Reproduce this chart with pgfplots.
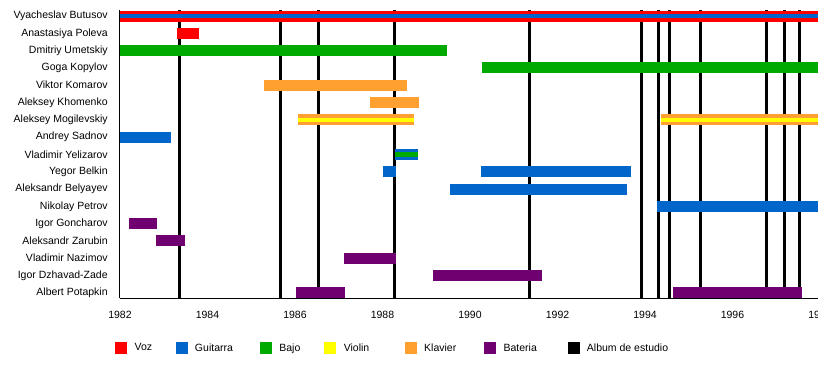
\documentclass[border=0pt]{standalone}
\usepackage{fontspec}
\setmainfont{Liberation Sans}
\usepackage{pgfplots}
\pgfplotsset{compat=1.18}
\definecolor{cVoz}{HTML}{FF0000}
\definecolor{cGui}{HTML}{0066CC}
\definecolor{cBajo}{HTML}{00AA00}
\definecolor{cVio}{HTML}{FFFF00}
\definecolor{cKla}{HTML}{FFA030}
\definecolor{cBat}{HTML}{700070}
\begin{document}
\begin{tikzpicture}[font=\fontsize{10.5bp}{12bp}\selectfont]
\begin{axis}[
  at={(0,0)}, anchor=south west,
  scale only axis, width=700bp, height=288bp,
  xmin=1982, xmax=1998, ymin=-0.3, ymax=16.35,
  clip=false,
  axis x line=bottom, axis y line=left,
  axis line style={-, line width=1bp, black},
  xtick={1982,1984,...,1998},
  /pgf/number format/1000 sep={},
  /pgf/number format/assume math mode=true,
  xtick style={draw=none}, ytick style={draw=none},
  xticklabel style={anchor=center, yshift=-15bp},
  ytick={0,...,16},
  yticklabels={Albert Potapkin, Igor Dzhavad-Zade, Vladimir Nazimov, Aleksandr Zarubin, Igor Goncharov, Nikolay Petrov, Aleksandr Belyayev, Yegor Belkin, Vladimir Yelizarov, Andrey Sadnov, Aleksey Mogilevskiy, Aleksey Khomenko, Viktor Komarov, Goga Kopylov, Dmitriy Umetskiy, Anastasiya Poleva, Vyacheslav Butusov},
  yticklabel style={anchor=east, inner sep=0pt, xshift=-10bp},
  bar/.style={line width=11bp, forget plot},
  stripe/.style={line width=4.5bp, forget plot},
  legend image code/.code={\fill[#1] (0bp,-5.5bp) rectangle (11bp,5.5bp);},
  legend columns=7,
  legend cell align=left,
  legend style={at={(axis description cs:-0.00714,-0.1736)}, anchor=west,
    draw=none, inner sep=0pt, column sep=0pt, nodes={inner sep=0pt},
    /tikz/every odd column/.style={column sep=8bp},
    font=\fontsize{10.5bp}{12bp}\selectfont},
]
% album lines
\pgfplotsinvokeforeach{1983.36,1985.66,1986.53,1988.27,1991.37,1993.92,1994.30,1994.57,1995.26,1996.77,1997.18,1997.54}{
  \addplot[black, line width=3bp, forget plot] coordinates {(#1,-0.3) (#1,16.35)};
}
% Vyacheslav Butusov
\addplot[bar, cVoz] coordinates {(1982,16) (1998,16)};
\addplot[stripe, cGui] coordinates {(1982,16) (1998,16)};
% Anastasiya Poleva
\addplot[bar, cVoz] coordinates {(1983.30,15) (1983.81,15)};
% Dmitriy Umetskiy
\addplot[bar, cBajo] coordinates {(1982,14) (1989.47,14)};
% Goga Kopylov
\addplot[bar, cBajo] coordinates {(1990.27,13) (1998,13)};
% Viktor Komarov
\addplot[bar, cKla] coordinates {(1985.29,12) (1988.57,12)};
% Aleksey Khomenko
\addplot[bar, cKla] coordinates {(1987.71,11) (1988.83,11)};
% Aleksey Mogilevskiy
\addplot[bar, cKla] coordinates {(1986.07,10) (1988.72,10)};
\addplot[stripe, cVio] coordinates {(1986.07,10) (1988.72,10)};
\addplot[bar, cKla] coordinates {(1994.37,10) (1998,10)};
\addplot[stripe, cVio] coordinates {(1994.37,10) (1998,10)};
% Andrey Sadnov
\addplot[bar, cGui] coordinates {(1982,9) (1983.17,9)};
% Vladimir Yelizarov
\addplot[bar, cGui] coordinates {(1988.29,8) (1988.80,8)};
\addplot[stripe, cBajo] coordinates {(1988.29,8) (1988.80,8)};
% Yegor Belkin
\addplot[bar, cGui] coordinates {(1988.00,7) (1988.31,7)};
\addplot[bar, cGui] coordinates {(1990.25,7) (1993.67,7)};
% Aleksandr Belyayev
\addplot[bar, cGui] coordinates {(1989.54,6) (1993.59,6)};
% Nikolay Petrov
\addplot[bar, cGui] coordinates {(1994.27,5) (1998,5)};
% Igor Goncharov
\addplot[bar, cBat] coordinates {(1982.21,4) (1982.85,4)};
% Aleksandr Zarubin
\addplot[bar, cBat] coordinates {(1982.82,3) (1983.49,3)};
% Vladimir Nazimov
\addplot[bar, cBat] coordinates {(1987.12,2) (1988.31,2)};
% Igor Dzhavad-Zade
\addplot[bar, cBat] coordinates {(1989.15,1) (1991.65,1)};
% Albert Potapkin
\addplot[bar, cBat] coordinates {(1986.02,0) (1987.14,0)};
\addplot[bar, cBat] coordinates {(1994.64,0) (1997.58,0)};
% legend
\addlegendimage{cVoz}\addlegendentry{\makebox[41bp][l]{Voz}}
\addlegendimage{cGui}\addlegendentry{\makebox[65bp][l]{Guitarra}}
\addlegendimage{cBajo}\addlegendentry{\makebox[45bp][l]{Bajo}}
\addlegendimage{cVio}\addlegendentry{\makebox[61bp][l]{Violin}}
\addlegendimage{cKla}\addlegendentry{\makebox[60bp][l]{Klavier}}
\addlegendimage{cBat}\addlegendentry{\makebox[64bp][l]{Bateria}}
\addlegendimage{black}\addlegendentry{Album de estudio}
\end{axis}
\pgfresetboundingbox
\useasboundingbox (-120bp,-80bp) rectangle (698bp,298bp);
\end{tikzpicture}
\end{document}
